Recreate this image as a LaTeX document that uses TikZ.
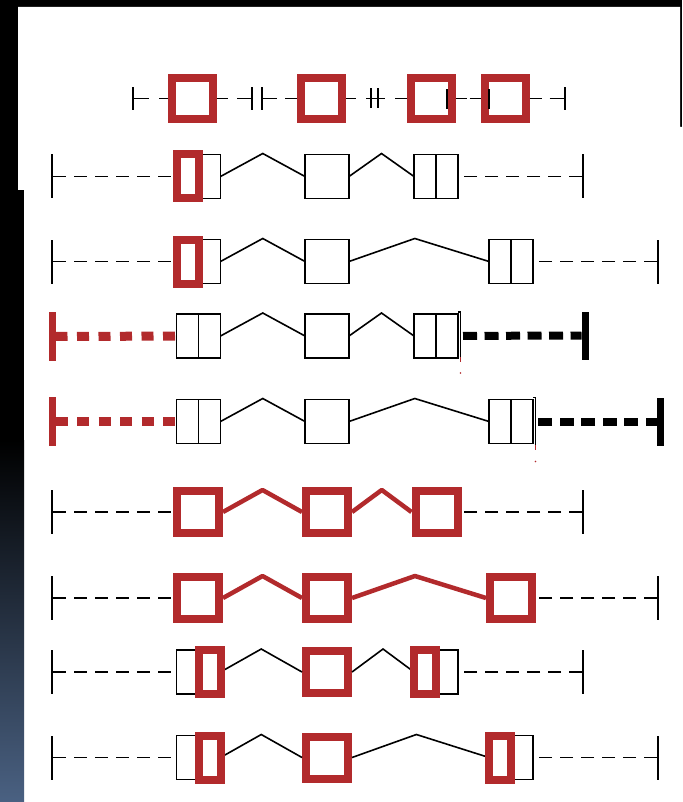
\documentclass[tikz,border=0pt]{standalone}
\usepackage{tikz}
\usetikzlibrary{calc}
\definecolor{hitred}{RGB}{178,42,44}
\definecolor{stripblue}{RGB}{74,97,130}
\tikzstyle{split_line}=[
    {path picture={
        \draw[black, line width=1.8pt]
        (path picture bounding box.north) --
        (path picture bounding box.south);
      }
    }
]
\tikzstyle{exon_box}=[rectangle, draw=black, fill=white, line width=1.8pt, inner sep=0pt, outer sep=0pt, minimum size=44pt]
\tikzstyle{exon_split}=[exon_box, split_line]
\tikzstyle{exon_red}=[rectangle, draw=hitred, fill=white, line width=8pt, inner sep=0pt, minimum size=42pt]
\tikzstyle{half_red}=[draw=hitred, line width=8pt]
\tikzstyle{end_tick}=[rectangle, fill=black, inner sep=0pt, outer sep=0pt, minimum width=2pt, minimum height=44pt]
\tikzstyle{end_tick_red}=[end_tick, fill=hitred, minimum width=7pt, minimum height=49pt]
\tikzstyle{end_tick_bold}=[end_tick, minimum width=7pt, minimum height=48pt]
\tikzstyle{link_line}=[black, line width=1.9pt]
\tikzstyle{utr_line}=[black, line width=1.9pt, dash pattern=on 13pt off 8pt]
\tikzstyle{utr_red}=[hitred, line width=9pt, dash pattern=on 12pt off 9.5pt]
\tikzstyle{utr_bold}=[black, line width=8pt, dash pattern=on 14pt off 7.5pt, dash phase=3pt]
\tikzstyle{intron_line}=[black, line width=1.6pt]
\tikzstyle{intron_red}=[hitred, line width=4.5pt, line join=round]
\begin{document}
\begin{tikzpicture}[x=1pt, y=-1pt]
          \useasboundingbox (0,0) rectangle (682,802);
          \fill[black] (0,0) rectangle (682,802);
          \fill[white] (18,7) -- (680,7) -- (680,127) -- (682,127) -- (682,802) -- (24,802) -- (24,190) -- (18,190) -- cycle;
          \shade[top color=black, bottom color=stripblue] (0,440) rectangle (24,802);

          \node[end_tick, minimum height=23pt] (r1s) at (133,98.5){};
          \node[exon_red, minimum size=41pt] (r1e1) at (192.5,98.5){};
          \node[end_tick, minimum height=23pt] (r1b1) at (252,98.5){};
          \node[end_tick, minimum height=23pt] (r1b2) at (262,98.5){};
          \node[exon_red, minimum size=41pt] (r1e2) at (321.5,98.5){};
          \node[end_tick, minimum height=20pt] (r1c1) at (371,98.5){};
          \node[end_tick, minimum height=20pt] (r1c2) at (378,98.5){};
          \node[exon_red, minimum size=41pt] (r1e3) at (431,98.5){};
          \node[exon_red, minimum size=41pt] (r1e4) at (505,98.5){};
          \node[end_tick, minimum height=23pt] (r1t) at (565,98.5){};
          \draw[link_line, dash pattern=on 15pt off 10pt on 30pt off 1pt](r1s) -- (r1e1);
          \draw[link_line, dash pattern=on 11pt off 9pt on 30pt off 1pt](r1e1) -- (r1b1);
          \draw[link_line, dash pattern=on 14pt off 8pt on 30pt off 1pt](r1b2) -- (r1e2);
          \draw[link_line, dash pattern=on 10pt off 10pt on 30pt off 1pt](r1e2) -- (r1c1);
          \draw[link_line](r1c1) -- (r1c2);
          \draw[link_line, dash pattern=on 6pt off 10pt on 30pt off 1pt](r1c2) -- (r1e3);
          \draw[link_line, dash pattern=on 11pt off 3pt on 30pt off 1pt](r1e3) -- (r1e4);
          \draw[link_line, dash pattern=on 12pt off 8pt on 30pt off 1pt](r1e4) -- (r1t);
          \draw[line width=2.6pt]([xshift=16pt]r1e3.center) ++(0,-9) -- ++(0,20);
          \draw[line width=2.6pt]([xshift=-16pt]r1e4.center) ++(0,-9) -- ++(0,20);

          \node[end_tick] (r2s) at (52,176.5){};
          \node[exon_split] (r2e1) at (198.5,176.5){};
          \node[exon_box] (r2e2) at (327,176.5){};
          \node[exon_split] (r2e3) at (436,176.5){};
          \node[end_tick] (r2t) at (583,176.5){};
          \draw[utr_line](r2s) -- (r2e1);
          \draw[intron_line](r2e1.east) -- ($(r2e1.east)!0.5!(r2e2.west)+(0,-23)$) -- (r2e2.west);
          \draw[intron_line](r2e2.east) -- ($(r2e2.east)!0.5!(r2e3.west)+(0,-23)$) -- (r2e3.west);
          \draw[utr_line](r2t) -- (r2e3);
          \draw[half_red](r2e1.north west) rectangle (r2e1.south);

          \node[end_tick] (r3s) at (52,261.5){};
          \node[exon_split] (r3e1) at (198.5,261.5){};
          \node[exon_box] (r3e2) at (327,261.5){};
          \node[exon_split] (r3e3) at (511,261.5){};
          \node[end_tick] (r3t) at (658,261.5){};
          \draw[utr_line](r3s) -- (r3e1);
          \draw[intron_line](r3e1.east) -- ($(r3e1.east)!0.5!(r3e2.west)+(0,-23)$) -- (r3e2.west);
          \draw[intron_line](r3e2.east) -- ($(r3e2.east)!0.47!(r3e3.west)+(0,-23)$) -- (r3e3.west);
          \draw[utr_line](r3t) -- (r3e3);
          \draw[half_red](r3e1.north west) rectangle (r3e1.south);

          \node[end_tick_red] (r4s) at (52,336.5){};
          \node[exon_split] (r4e1) at (198.5,336){};
          \node[exon_box] (r4e2) at (327,336){};
          \node[exon_split] (r4e3) at (436,336){};
          \node[end_tick_bold] (r4t) at (585,335.5){};
          \draw[utr_red](r4s) -- (r4e1);
          \draw[intron_line](r4e1.east) -- ($(r4e1.east)!0.5!(r4e2.west)+(0,-23)$) -- (r4e2.west);
          \draw[intron_line](r4e2.east) -- ($(r4e2.east)!0.5!(r4e3.west)+(0,-23)$) -- (r4e3.west);
          \draw[utr_bold](r4t) -- (r4e3);
          \draw[line width=1.4pt](r4e3.north east) ++(0,-2) -| ++(2.5,48);
          \draw[hitred, line width=1.2pt]([xshift=2.5pt]r4e3.south east) ++(0,-1) -- ++(0,5);
          \fill[hitred]([xshift=2.5pt]r4e3.south east) ++(0,15) circle (0.9);

          \node[end_tick_red] (r5s) at (52,421.5){};
          \node[exon_split] (r5e1) at (198.5,421.5){};
          \node[exon_box] (r5e2) at (327,421.5){};
          \node[exon_split] (r5e3) at (511,421.5){};
          \node[end_tick_bold] (r5t) at (660,421.5){};
          \draw[utr_red](r5s) -- (r5e1);
          \draw[intron_line](r5e1.east) -- ($(r5e1.east)!0.5!(r5e2.west)+(0,-23)$) -- (r5e2.west);
          \draw[intron_line](r5e2.east) -- ($(r5e2.east)!0.47!(r5e3.west)+(0,-23)$) -- (r5e3.west);
          \draw[utr_bold](r5t) -- (r5e3);
          \draw[line width=1.4pt](r5e3.north east) ++(0,-2) -| ++(2.5,48);
          \draw[hitred, line width=1.2pt]([xshift=2.5pt]r5e3.south east) ++(0,1) -- ++(0,5);
          \fill[hitred]([xshift=2.5pt]r5e3.south east) ++(0,18) circle (0.9);

          \node[end_tick] (r6s) at (52,512){};
          \node[exon_red] (r6e1) at (198,512){};
          \node[exon_red] (r6e2) at (327,512){};
          \node[exon_red] (r6e3) at (436.5,512){};
          \node[end_tick] (r6t) at (583,512){};
          \draw[utr_line](r6s) -- (r6e1);
          \draw[intron_red](r6e1.east) -- ($(r6e1.east)!0.5!(r6e2.west)+(0,-22)$) -- (r6e2.west);
          \draw[intron_red](r6e2.east) -- ($(r6e2.east)!0.5!(r6e3.west)+(0,-22)$) -- (r6e3.west);
          \draw[utr_line](r6t) -- (r6e3);

          \node[end_tick] (r7s) at (52,598){};
          \node[exon_red] (r7e1) at (198,598){};
          \node[exon_red] (r7e2) at (327,598){};
          \node[exon_red] (r7e3) at (511,598){};
          \node[end_tick] (r7t) at (658,598){};
          \draw[utr_line](r7s) -- (r7e1);
          \draw[intron_red](r7e1.east) -- ($(r7e1.east)!0.5!(r7e2.west)+(0,-22)$) -- (r7e2.west);
          \draw[intron_red](r7e2.east) -- ($(r7e2.east)!0.47!(r7e3.west)+(0,-22)$) -- (r7e3.west);
          \draw[utr_line](r7t) -- (r7e3);

          \node[end_tick] (r8s) at (52,672){};
          \node[exon_box] (r8e1) at (198.5,672){};
          \node[exon_red] (r8e2) at (327,672){};
          \node[exon_box] (r8e3) at (436,672){};
          \node[end_tick] (r8t) at (583,672){};
          \draw[utr_line](r8s) -- (r8e1);
          \draw[intron_line](r8e1.east) -- ($(r8e1.east)!0.5!(r8e2.west)+(0,-23)$) -- (r8e2.west);
          \draw[intron_line](r8e2.east) -- ($(r8e2.east)!0.5!(r8e3.west)+(0,-23)$) -- (r8e3.west);
          \draw[utr_line](r8t) -- (r8e3);
          \draw[half_red](r8e1.north) rectangle (r8e1.south east);
          \draw[half_red](r8e3.north west) rectangle (r8e3.south);

          \node[end_tick] (r9s) at (52,757.5){};
          \node[exon_box] (r9e1) at (198.5,757.5){};
          \node[exon_red] (r9e2) at (327,757.5){};
          \node[exon_box] (r9e3) at (511,757.5){};
          \node[end_tick] (r9t) at (658,757.5){};
          \draw[utr_line](r9s) -- (r9e1);
          \draw[intron_line](r9e1.east) -- ($(r9e1.east)!0.5!(r9e2.west)+(0,-23)$) -- (r9e2.west);
          \draw[intron_line](r9e2.east) -- ($(r9e2.east)!0.47!(r9e3.west)+(0,-23)$) -- (r9e3.west);
          \draw[utr_line](r9t) -- (r9e3);
          \draw[half_red](r9e1.north) rectangle (r9e1.south east);
          \draw[half_red](r9e3.north west) rectangle (r9e3.south);
        \end{tikzpicture}
\end{document}
